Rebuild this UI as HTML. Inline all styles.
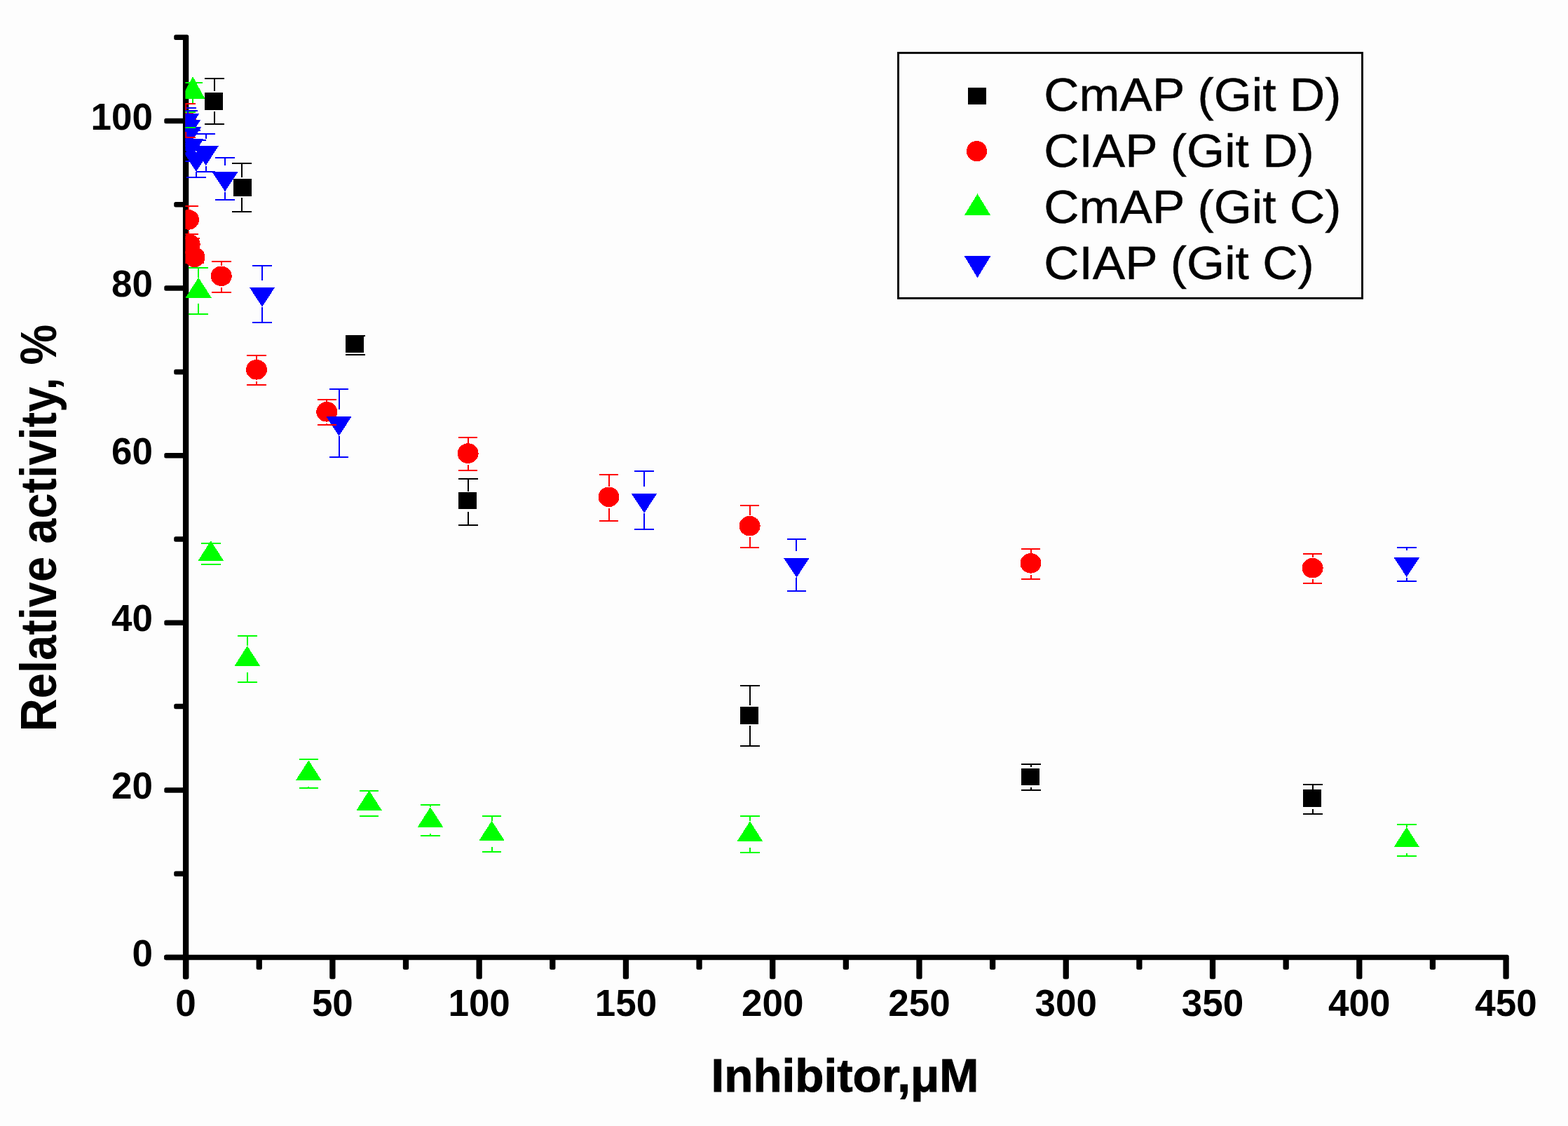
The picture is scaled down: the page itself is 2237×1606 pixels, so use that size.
<!DOCTYPE html><html><head><meta charset="utf-8"><title>Relative activity vs inhibitor</title><style>html,body{margin:0;padding:0;background:#fdfdfd;}body{width:2237px;height:1606px;overflow:hidden;}svg{display:block;}.t{font-family:"Liberation Sans",Arial,sans-serif;fill:#000;}.b{font-weight:bold;}</style></head><body><svg width="2237" height="1606" viewBox="0 0 2237 1606"><rect width="2237" height="1606" fill="#fdfdfd"/><defs><clipPath id="pc"><rect x="264.4" y="0" width="2000" height="1370"/></clipPath></defs><g fill="#000"><rect x="260.95" y="53.2" width="8.3" height="1343.4" rx="2.5"/><rect x="234.3" y="1361.75" width="1918.43" height="7.5" rx="2.5"/><rect x="234.3" y="1361.75" width="30.8" height="7.5" rx="2.5"/><rect x="248.2" y="1242.45" width="16.9" height="7.5" rx="2.5"/><rect x="234.3" y="1123.15" width="30.8" height="7.5" rx="2.5"/><rect x="248.2" y="1003.85" width="16.9" height="7.5" rx="2.5"/><rect x="234.3" y="884.55" width="30.8" height="7.5" rx="2.5"/><rect x="248.2" y="765.25" width="16.9" height="7.5" rx="2.5"/><rect x="234.3" y="645.95" width="30.8" height="7.5" rx="2.5"/><rect x="248.2" y="526.65" width="16.9" height="7.5" rx="2.5"/><rect x="234.3" y="407.35" width="30.8" height="7.5" rx="2.5"/><rect x="248.2" y="288.05" width="16.9" height="7.5" rx="2.5"/><rect x="234.3" y="168.75" width="30.8" height="7.5" rx="2.5"/><rect x="248.2" y="49.45" width="21.05" height="7.5" rx="2.5"/><rect x="260.95" y="1365.5" width="8.3" height="31.1" rx="2.5"/><rect x="365.59" y="1365.5" width="8.3" height="17.4" rx="2.5"/><rect x="470.23" y="1365.5" width="8.3" height="31.1" rx="2.5"/><rect x="574.86" y="1365.5" width="8.3" height="17.4" rx="2.5"/><rect x="679.5" y="1365.5" width="8.3" height="31.1" rx="2.5"/><rect x="784.14" y="1365.5" width="8.3" height="17.4" rx="2.5"/><rect x="888.78" y="1365.5" width="8.3" height="31.1" rx="2.5"/><rect x="993.41" y="1365.5" width="8.3" height="17.4" rx="2.5"/><rect x="1098.05" y="1365.5" width="8.3" height="31.1" rx="2.5"/><rect x="1202.69" y="1365.5" width="8.3" height="17.4" rx="2.5"/><rect x="1307.32" y="1365.5" width="8.3" height="31.1" rx="2.5"/><rect x="1411.96" y="1365.5" width="8.3" height="17.4" rx="2.5"/><rect x="1516.6" y="1365.5" width="8.3" height="31.1" rx="2.5"/><rect x="1621.24" y="1365.5" width="8.3" height="17.4" rx="2.5"/><rect x="1725.88" y="1365.5" width="8.3" height="31.1" rx="2.5"/><rect x="1830.51" y="1365.5" width="8.3" height="17.4" rx="2.5"/><rect x="1935.15" y="1365.5" width="8.3" height="31.1" rx="2.5"/><rect x="2039.79" y="1365.5" width="8.3" height="17.4" rx="2.5"/><rect x="2144.43" y="1365.5" width="8.3" height="31.1" rx="2.5"/></g><g class="t b" font-size="53" text-anchor="middle"><text x="265.1" y="1449.2">0</text><text x="474.38" y="1449.2">50</text><text x="683.65" y="1449.2">100</text><text x="892.93" y="1449.2">150</text><text x="1102.2" y="1449.2">200</text><text x="1311.47" y="1449.2">250</text><text x="1520.75" y="1449.2">300</text><text x="1730.03" y="1449.2">350</text><text x="1939.3" y="1449.2">400</text><text x="2148.58" y="1449.2">450</text></g><g class="t b" font-size="53" text-anchor="end"><text x="218" y="1377.5">0</text><text x="218" y="1138.9">20</text><text x="218" y="900.3">40</text><text x="218" y="661.7">60</text><text x="218" y="423.1">80</text><text x="218" y="184.5">100</text></g><text class="t b" transform="translate(1014.55,1556.9) scale(1.021,1)" font-size="66" stroke="#000" stroke-width="0.9">Inhibitor,μM</text><text class="t b" transform="translate(79.8,1043.21) rotate(-90) scale(0.9095,1)" font-size="71.5">Relative activity, %</text><g clip-path="url(#pc)" shape-rendering="crispEdges"><rect x="292.2" y="132.05" width="25.9" height="24.5" fill="#000"/><rect x="332.85" y="255.05" width="25.9" height="24.5" fill="#000"/><rect x="493.25" y="478.7" width="25.9" height="24.5" fill="#000"/><rect x="653.95" y="701.8" width="25.9" height="24.5" fill="#000"/><rect x="1056.25" y="1008" width="25.9" height="24.5" fill="#000"/><rect x="1457" y="1095.55" width="25.9" height="24.5" fill="#000"/><rect x="1859.2" y="1126.35" width="25.9" height="24.5" fill="#000"/><ellipse cx="265.2" cy="171.3" rx="15" ry="14.3" fill="#f00"/><ellipse cx="269" cy="313.4" rx="15" ry="14.3" fill="#f00"/><ellipse cx="270.7" cy="348.7" rx="15" ry="14.3" fill="#f00"/><ellipse cx="277.5" cy="366.8" rx="15" ry="14.3" fill="#f00"/><ellipse cx="315.7" cy="393.8" rx="15" ry="14.3" fill="#f00"/><ellipse cx="366" cy="527.3" rx="15" ry="14.3" fill="#f00"/><ellipse cx="466.3" cy="587.3" rx="15" ry="14.3" fill="#f00"/><ellipse cx="667.6" cy="646.6" rx="15" ry="14.3" fill="#f00"/><ellipse cx="868.5" cy="708.8" rx="15" ry="14.3" fill="#f00"/><ellipse cx="1069.6" cy="750.2" rx="15" ry="14.3" fill="#f00"/><ellipse cx="1470.5" cy="803.3" rx="15" ry="14.3" fill="#f00"/><ellipse cx="1872.6" cy="810.2" rx="15" ry="14.3" fill="#f00"/><polygon points="275.1,109 292.2,140.6 258,140.6" fill="#0f0"/><polygon points="283.2,395.75 301.6,424.55 264.8,424.55" fill="#0f0"/><polygon points="300.8,771.15 319.2,799.95 282.4,799.95" fill="#0f0"/><polygon points="352.8,921.15 371.2,949.95 334.4,949.95" fill="#0f0"/><polygon points="440.3,1084.35 458.7,1113.15 421.9,1113.15" fill="#0f0"/><polygon points="526.6,1127.35 545,1156.15 508.2,1156.15" fill="#0f0"/><polygon points="614,1151.15 632.4,1179.95 595.6,1179.95" fill="#0f0"/><polygon points="701.6,1170.55 720,1199.35 683.2,1199.35" fill="#0f0"/><polygon points="1069.9,1171.25 1088.3,1200.05 1051.5,1200.05" fill="#0f0"/><polygon points="2006.8,1179.65 2025.2,1208.45 1988.4,1208.45" fill="#0f0"/><polygon points="247.6,161.85 284.4,161.85 266,189.9" fill="#00f"/><polygon points="249.3,171.25 286.1,171.25 267.7,199.3" fill="#00f"/><polygon points="250.6,180.65 287.4,180.65 269,208.7" fill="#00f"/><polygon points="253.8,198.25 290.6,198.25 272.2,226.3" fill="#00f"/><polygon points="261.5,216.75 298.3,216.75 279.9,244.8" fill="#00f"/><polygon points="275.2,208.05 312,208.05 293.6,236.1" fill="#00f"/><polygon points="302.6,245.25 339.4,245.25 321,273.3" fill="#00f"/><polygon points="355.6,409.55 392.4,409.55 374,437.6" fill="#00f"/><polygon points="465.1,593.75 501.9,593.75 483.5,621.8" fill="#00f"/><polygon points="900.7,703.75 937.5,703.75 919.1,731.8" fill="#00f"/><polygon points="1118,795.75 1154.8,795.75 1136.4,823.8" fill="#00f"/><polygon points="1988.4,795.05 2025.2,795.05 2006.8,823.1" fill="#00f"/><rect x="292.2" y="110.5" width="27.6" height="2" fill="#000"/><rect x="292.2" y="176.4" width="27.6" height="2" fill="#000"/><rect x="305" y="111.5" width="2" height="18.65" fill="#000"/><rect x="305" y="158.75" width="2" height="18.65" fill="#000"/><rect x="331.2" y="231.85" width="27.6" height="2" fill="#000"/><rect x="331.2" y="300.85" width="27.6" height="2" fill="#000"/><rect x="344" y="232.85" width="2" height="20.2" fill="#000"/><rect x="344" y="281.65" width="2" height="20.2" fill="#000"/><rect x="493.2" y="478" width="27.6" height="2" fill="#000"/><rect x="493.2" y="505.4" width="27.6" height="2" fill="#000"/><rect x="654" y="681.5" width="27.6" height="2" fill="#000"/><rect x="654" y="747.7" width="27.6" height="2" fill="#000"/><rect x="666.8" y="682.5" width="2" height="18.8" fill="#000"/><rect x="666.8" y="729.9" width="2" height="18.8" fill="#000"/><rect x="1056.2" y="976.6" width="27.6" height="2" fill="#000"/><rect x="1056.2" y="1062.9" width="27.6" height="2" fill="#000"/><rect x="1069" y="977.6" width="2" height="28.85" fill="#000"/><rect x="1069" y="1035.05" width="2" height="28.85" fill="#000"/><rect x="1456.9" y="1089.1" width="27.6" height="2" fill="#000"/><rect x="1456.9" y="1126.2" width="27.6" height="2" fill="#000"/><rect x="1469.7" y="1090.1" width="2" height="4.25" fill="#000"/><rect x="1469.7" y="1122.95" width="2" height="4.25" fill="#000"/><rect x="1859.1" y="1118.3" width="27.6" height="2" fill="#000"/><rect x="1859.1" y="1159.9" width="27.6" height="2" fill="#000"/><rect x="1871.9" y="1119.3" width="2" height="6.5" fill="#000"/><rect x="1871.9" y="1154.4" width="2" height="6.5" fill="#000"/><rect x="261.3" y="116.5" width="27.6" height="2" fill="#0f0"/><rect x="274.1" y="140" width="2" height="7.5" fill="#0f0"/><rect x="251.3" y="158.9" width="27.6" height="2" fill="#0f0"/><rect x="251.3" y="180.8" width="27.6" height="2" fill="#0f0"/><rect x="269.4" y="380.6" width="27.6" height="2" fill="#0f0"/><rect x="269.4" y="446.6" width="27.6" height="2" fill="#0f0"/><rect x="282.2" y="381.6" width="2" height="14.2" fill="#0f0"/><rect x="282.2" y="433.4" width="2" height="14.2" fill="#0f0"/><rect x="287" y="773.8" width="27.6" height="2" fill="#0f0"/><rect x="287" y="804.2" width="27.6" height="2" fill="#0f0"/><rect x="339" y="905.8" width="27.6" height="2" fill="#0f0"/><rect x="339" y="972.2" width="27.6" height="2" fill="#0f0"/><rect x="351.8" y="906.8" width="2" height="14.4" fill="#0f0"/><rect x="351.8" y="958.8" width="2" height="14.4" fill="#0f0"/><rect x="426.5" y="1081.5" width="27.6" height="2" fill="#0f0"/><rect x="426.5" y="1122.9" width="27.6" height="2" fill="#0f0"/><rect x="439.3" y="1082.5" width="2" height="1.9" fill="#0f0"/><rect x="439.3" y="1122" width="2" height="1.9" fill="#0f0"/><rect x="512.8" y="1127.4" width="27.6" height="2" fill="#0f0"/><rect x="512.8" y="1163" width="27.6" height="2" fill="#0f0"/><rect x="600.2" y="1147.3" width="27.6" height="2" fill="#0f0"/><rect x="600.2" y="1190.7" width="27.6" height="2" fill="#0f0"/><rect x="613" y="1148.3" width="2" height="2.9" fill="#0f0"/><rect x="613" y="1188.8" width="2" height="2.9" fill="#0f0"/><rect x="687.8" y="1163" width="27.6" height="2" fill="#0f0"/><rect x="687.8" y="1213.8" width="27.6" height="2" fill="#0f0"/><rect x="700.6" y="1164" width="2" height="6.6" fill="#0f0"/><rect x="700.6" y="1208.2" width="2" height="6.6" fill="#0f0"/><rect x="1056.1" y="1162.9" width="27.6" height="2" fill="#0f0"/><rect x="1056.1" y="1215.3" width="27.6" height="2" fill="#0f0"/><rect x="1068.9" y="1163.9" width="2" height="7.4" fill="#0f0"/><rect x="1068.9" y="1208.9" width="2" height="7.4" fill="#0f0"/><rect x="1993" y="1175.2" width="27.6" height="2" fill="#0f0"/><rect x="1993" y="1219.8" width="27.6" height="2" fill="#0f0"/><rect x="2005.8" y="1176.2" width="2" height="3.5" fill="#0f0"/><rect x="2005.8" y="1217.3" width="2" height="3.5" fill="#0f0"/><rect x="252.2" y="153.4" width="27.6" height="2" fill="#00f"/><rect x="252.2" y="187.8" width="27.6" height="2" fill="#00f"/><rect x="253.9" y="156.5" width="27.6" height="2" fill="#00f"/><rect x="253.9" y="203.5" width="27.6" height="2" fill="#00f"/><rect x="266.7" y="157.5" width="2" height="4" fill="#00f"/><rect x="266.7" y="199.8" width="2" height="4.7" fill="#00f"/><rect x="255.2" y="171.4" width="27.6" height="2" fill="#00f"/><rect x="255.2" y="207.4" width="27.6" height="2" fill="#00f"/><rect x="258.4" y="185" width="27.6" height="2" fill="#00f"/><rect x="258.4" y="229" width="27.6" height="2" fill="#00f"/><rect x="271.2" y="186" width="2" height="2.5" fill="#00f"/><rect x="271.2" y="226.8" width="2" height="3.2" fill="#00f"/><rect x="266.1" y="199.2" width="27.6" height="2" fill="#00f"/><rect x="266.1" y="251.8" width="27.6" height="2" fill="#00f"/><rect x="278.9" y="200.2" width="2" height="6.8" fill="#00f"/><rect x="278.9" y="245.3" width="2" height="7.5" fill="#00f"/><rect x="279.8" y="190" width="27.6" height="2" fill="#00f"/><rect x="279.8" y="243.6" width="27.6" height="2" fill="#00f"/><rect x="292.6" y="191" width="2" height="7.3" fill="#00f"/><rect x="292.6" y="236.6" width="2" height="8" fill="#00f"/><rect x="307.2" y="224" width="27.6" height="2" fill="#00f"/><rect x="307.2" y="284" width="27.6" height="2" fill="#00f"/><rect x="320" y="225" width="2" height="10.5" fill="#00f"/><rect x="320" y="273.8" width="2" height="11.2" fill="#00f"/><rect x="360.2" y="377.7" width="27.6" height="2" fill="#00f"/><rect x="360.2" y="458.9" width="27.6" height="2" fill="#00f"/><rect x="373" y="378.7" width="2" height="21.1" fill="#00f"/><rect x="373" y="438.1" width="2" height="21.8" fill="#00f"/><rect x="469.7" y="554.2" width="27.6" height="2" fill="#00f"/><rect x="469.7" y="650.8" width="27.6" height="2" fill="#00f"/><rect x="482.5" y="555.2" width="2" height="28.8" fill="#00f"/><rect x="482.5" y="622.3" width="2" height="29.5" fill="#00f"/><rect x="905.3" y="671" width="27.6" height="2" fill="#00f"/><rect x="905.3" y="754" width="27.6" height="2" fill="#00f"/><rect x="918.1" y="672" width="2" height="22" fill="#00f"/><rect x="918.1" y="732.3" width="2" height="22.7" fill="#00f"/><rect x="1122.6" y="767.5" width="27.6" height="2" fill="#00f"/><rect x="1122.6" y="841.5" width="27.6" height="2" fill="#00f"/><rect x="1135.4" y="768.5" width="2" height="17.5" fill="#00f"/><rect x="1135.4" y="824.3" width="2" height="18.2" fill="#00f"/><rect x="1993" y="779.9" width="27.6" height="2" fill="#00f"/><rect x="1993" y="827.7" width="27.6" height="2" fill="#00f"/><rect x="2005.8" y="780.9" width="2" height="4.4" fill="#00f"/><rect x="2005.8" y="823.6" width="2" height="5.1" fill="#00f"/><rect x="251.4" y="147.2" width="27.6" height="2" fill="#f00"/><rect x="251.4" y="194.8" width="27.6" height="2" fill="#f00"/><rect x="264.2" y="148.2" width="2" height="8.3" fill="#f00"/><rect x="264.2" y="187.5" width="2" height="8.3" fill="#f00"/><rect x="255.2" y="293.1" width="27.6" height="2" fill="#f00"/><rect x="255.2" y="333.1" width="27.6" height="2" fill="#f00"/><rect x="268" y="294.1" width="2" height="4.5" fill="#f00"/><rect x="268" y="329.6" width="2" height="4.5" fill="#f00"/><rect x="256.9" y="339.2" width="27.6" height="2" fill="#f00"/><rect x="256.9" y="357.6" width="27.6" height="2" fill="#f00"/><rect x="263.7" y="358.9" width="27.6" height="2" fill="#f00"/><rect x="263.7" y="374.1" width="27.6" height="2" fill="#f00"/><rect x="301.9" y="371.5" width="27.6" height="2" fill="#f00"/><rect x="301.9" y="415.5" width="27.6" height="2" fill="#f00"/><rect x="314.7" y="372.5" width="2" height="6.5" fill="#f00"/><rect x="314.7" y="410" width="2" height="6.5" fill="#f00"/><rect x="352.2" y="506.3" width="27.6" height="2" fill="#f00"/><rect x="352.2" y="547.7" width="27.6" height="2" fill="#f00"/><rect x="365" y="507.3" width="2" height="5.2" fill="#f00"/><rect x="365" y="543.5" width="2" height="5.2" fill="#f00"/><rect x="452.5" y="569.4" width="27.6" height="2" fill="#f00"/><rect x="452.5" y="604.6" width="27.6" height="2" fill="#f00"/><rect x="465.3" y="570.4" width="2" height="2.1" fill="#f00"/><rect x="465.3" y="603.5" width="2" height="2.1" fill="#f00"/><rect x="653.8" y="623.1" width="27.6" height="2" fill="#f00"/><rect x="653.8" y="669.5" width="27.6" height="2" fill="#f00"/><rect x="666.6" y="624.1" width="2" height="7.7" fill="#f00"/><rect x="666.6" y="662.8" width="2" height="7.7" fill="#f00"/><rect x="854.7" y="675.5" width="27.6" height="2" fill="#f00"/><rect x="854.7" y="741.5" width="27.6" height="2" fill="#f00"/><rect x="867.5" y="676.5" width="2" height="17.5" fill="#f00"/><rect x="867.5" y="725" width="2" height="17.5" fill="#f00"/><rect x="1055.8" y="719.9" width="27.6" height="2" fill="#f00"/><rect x="1055.8" y="779.9" width="27.6" height="2" fill="#f00"/><rect x="1068.6" y="720.9" width="2" height="14.5" fill="#f00"/><rect x="1068.6" y="766.4" width="2" height="14.5" fill="#f00"/><rect x="1456.7" y="781.5" width="27.6" height="2" fill="#f00"/><rect x="1456.7" y="824.5" width="27.6" height="2" fill="#f00"/><rect x="1469.5" y="782.5" width="2" height="6" fill="#f00"/><rect x="1469.5" y="819.5" width="2" height="6" fill="#f00"/><rect x="1858.8" y="789" width="27.6" height="2" fill="#f00"/><rect x="1858.8" y="830.8" width="27.6" height="2" fill="#f00"/><rect x="1871.6" y="790" width="2" height="5.4" fill="#f00"/><rect x="1871.6" y="826.4" width="2" height="5.4" fill="#f00"/></g><rect x="1281.5" y="75.4" width="662" height="350" fill="none" stroke="#000" stroke-width="2.9"/><g shape-rendering="crispEdges"><rect x="1380.7" y="124.6" width="26" height="24.2" fill="#000"/><ellipse cx="1393.5" cy="215.7" rx="14.6" ry="14.6" fill="#f00"/><polygon points="1394.5,276.3 1413.3,307.1 1375.8,307.1" fill="#0f0"/><polygon points="1375.8,365.4 1413.3,365.4 1394.5,396.2" fill="#00f"/></g><text class="t" transform="translate(1489.24,157.9) scale(1.055,1)" font-size="66" stroke="#000" stroke-width="0.4">CmAP (Git D)</text><text class="t" transform="translate(1489.24,238) scale(1.055,1)" font-size="66" stroke="#000" stroke-width="0.4">CIAP (Git D)</text><text class="t" transform="translate(1489.24,318) scale(1.055,1)" font-size="66" stroke="#000" stroke-width="0.4">CmAP (Git C)</text><text class="t" transform="translate(1489.24,397.8) scale(1.055,1)" font-size="66" stroke="#000" stroke-width="0.4">CIAP (Git C)</text></svg></body></html>
